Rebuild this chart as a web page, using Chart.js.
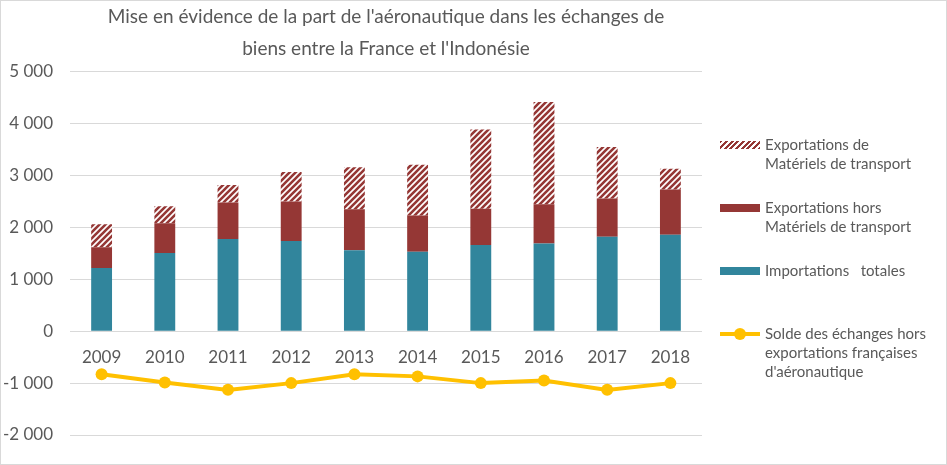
<!DOCTYPE html>
<html lang="fr">
<head>
<meta charset="utf-8">
<script src="https://cdn.jsdelivr.net/npm/chart.js@4/dist/chart.umd.min.js"></script>
<style>
  body { margin: 0; background: #fff; font-family: Lato, sans-serif; }
  #wrap { position: relative; width: 947px; height: 465px; overflow: hidden; }
  #wrap canvas { position: absolute; left: 0; top: 0; }
  #cadre { position: absolute; left: 0; top: 0; width: 947px; height: 465px; box-sizing: border-box; border: 1px solid #d9d9d9; pointer-events: none; }
  #legende { position: absolute; left: 0; top: 0; color: #595959; font-size: 15px; line-height: 19px; }
  .item { position: absolute; left: 720px; white-space: nowrap; }
  .item .sw { position: absolute; left: 0; width: 40px; }
  .item .txt { position: absolute; left: 45px; top: 0; }
</style>
</head>
<body>
<div id="wrap">
  <canvas id="graphique" width="947" height="465"></canvas>
  <div id="legende"></div>
  <div id="cadre"></div>
</div>
<script>
// donnees (millions d'euros)
const annees = ['2009', '2010', '2011', '2012', '2013', '2014', '2015', '2016', '2017', '2018'];
const importations = [1220, 1510, 1780, 1740, 1560, 1530, 1660, 1690, 1820, 1860];
const exportsHorsMT = [400, 570, 700, 760, 790, 700, 700, 760, 740, 870];
const exportsMT = [440, 330, 340, 570, 810, 980, 1530, 1970, 990, 400];
const solde = [-830, -990, -1130, -1000, -830, -870, -1000, -950, -1130, -1000];
const graduations = [-2000, -1000, 0, 1000, 2000, 3000, 4000, 5000];

const bleu = '#31859c';
const rouge = '#953735';
const jaune = '#ffc000';
const gris = '#595959';

// motif hachure pour les materiels de transport
function hachure() {
    const c = document.createElement('canvas');
    c.width = 6; c.height = 6;
    const g = c.getContext('2d');
    g.fillStyle = '#fff';
    g.fillRect(0, 0, 6, 6);
    g.strokeStyle = rouge;
    g.lineWidth = 2.6;
    g.beginPath();
    g.moveTo(-3, 3); g.lineTo(3, -3);
    g.moveTo(0, 6); g.lineTo(6, 0);
    g.moveTo(3, 9); g.lineTo(9, 3);
    g.stroke();
    return g.createPattern(c, 'repeat');
}

const espace = v => String(Math.abs(v)).replace(/\B(?=(\d{3})+(?!\d))/g, ' ');

const ctx = document.getElementById('graphique').getContext('2d');
const graphique = new Chart(ctx, {
    type: 'bar',
    data: {
        labels: annees,
        datasets: [
            { label: 'Importations   totales', data: importations, backgroundColor: bleu, stack: 'barres', order: 2 },
            { label: 'Exportations hors Matériels de transport', data: exportsHorsMT, backgroundColor: rouge, stack: 'barres', order: 2 },
            { label: 'Exportations de Matériels de transport', data: exportsMT, backgroundColor: hachure(), stack: 'barres', order: 2 },
            {
                type: 'line',
                label: "Solde des échanges hors exportations françaises d'aéronautique",
                data: solde,
                stack: 'solde',
                borderColor: jaune,
                backgroundColor: jaune,
                borderWidth: 4,
                pointRadius: 6,
                pointBorderWidth: 0,
                pointBackgroundColor: jaune,
                tension: 0,
                order: 1
            }
        ]
    },
    options: {
        responsive: false,
        animation: false,
        layout: { padding: { left: 0, right: 245, top: 0, bottom: 30 } },
        datasets: { bar: { barPercentage: 0.33, categoryPercentage: 1 } },
        scales: {
            x: {
                stacked: true,
                position: { y: 0 },
                grid: { display: false, drawTicks: false },
                border: { display: false },
                ticks: { color: gris, font: { family: 'Lato', size: 17 }, padding: 16, maxRotation: 0 }
            },
            y: {
                stacked: true,
                min: -2000,
                max: 5000,
                afterBuildTicks: s => { s.ticks = graduations.map(v => ({ value: v })); },
                afterFit: s => { s.width = 70; },
                grid: { color: '#d9d9d9', drawTicks: false },
                border: { display: false },
                ticks: {
                    color: gris,
                    font: { family: 'Lato', size: 17 },
                    padding: 17,
                    callback: v => (v < 0 ? '-' : '') + espace(v)
                }
            }
        },
        plugins: {
            legend: { display: false },
            tooltip: { enabled: false },
            title: {
                display: true,
                fullSize: false,
                text: ["Mise en évidence de la part de l'aéronautique dans les échanges de", "biens entre la France et l'Indonésie"],
                color: gris,
                font: { family: 'Lato', size: 19, weight: 'normal', lineHeight: 1.68 },
                padding: { top: 1, bottom: 7 }
            }
        }
    }
});

// legende a droite, texte sur plusieurs lignes
const legende = document.getElementById('legende');
const entrees = [
    { ds: 2, lignes: ['Exportations de', 'Matériels de transport'], haut: 135, sw: 'hachure' },
    { ds: 1, lignes: ['Exportations hors', 'Matériels de transport'], haut: 198, sw: 'plein' },
    { ds: 0, lignes: ['Importations\u00a0\u00a0 totales'], haut: 261, sw: 'plein' },
    { ds: 3, lignes: ['Solde des échanges hors', 'exportations françaises', "d'aéronautique"], haut: 324, sw: 'ligne' }
];
entrees.forEach(e => {
    const item = document.createElement('div');
    item.className = 'item';
    item.style.top = e.haut + 'px';
    const sw = document.createElement('div');
    sw.className = 'sw';
    if (e.sw === 'hachure') {
        sw.style.cssText = 'top:6px;height:8px;background:repeating-linear-gradient(-45deg,' + rouge + ' 0 2px,#fff 2px 4px);';
    } else if (e.sw === 'plein') {
        sw.style.cssText = 'top:6px;height:8px;background:' + graphique.data.datasets[e.ds].backgroundColor + ';';
    } else {
        sw.style.cssText = 'top:8px;height:4px;background:' + jaune + ';';
        const pt = document.createElement('div');
        pt.style.cssText = 'position:absolute;left:14px;top:-4px;width:12px;height:12px;border-radius:50%;background:' + jaune + ';';
        sw.appendChild(pt);
    }
    const txt = document.createElement('div');
    txt.className = 'txt';
    txt.innerHTML = e.lignes.join('<br>');
    item.appendChild(sw);
    item.appendChild(txt);
    legende.appendChild(item);
});
</script>
</body>
</html>
